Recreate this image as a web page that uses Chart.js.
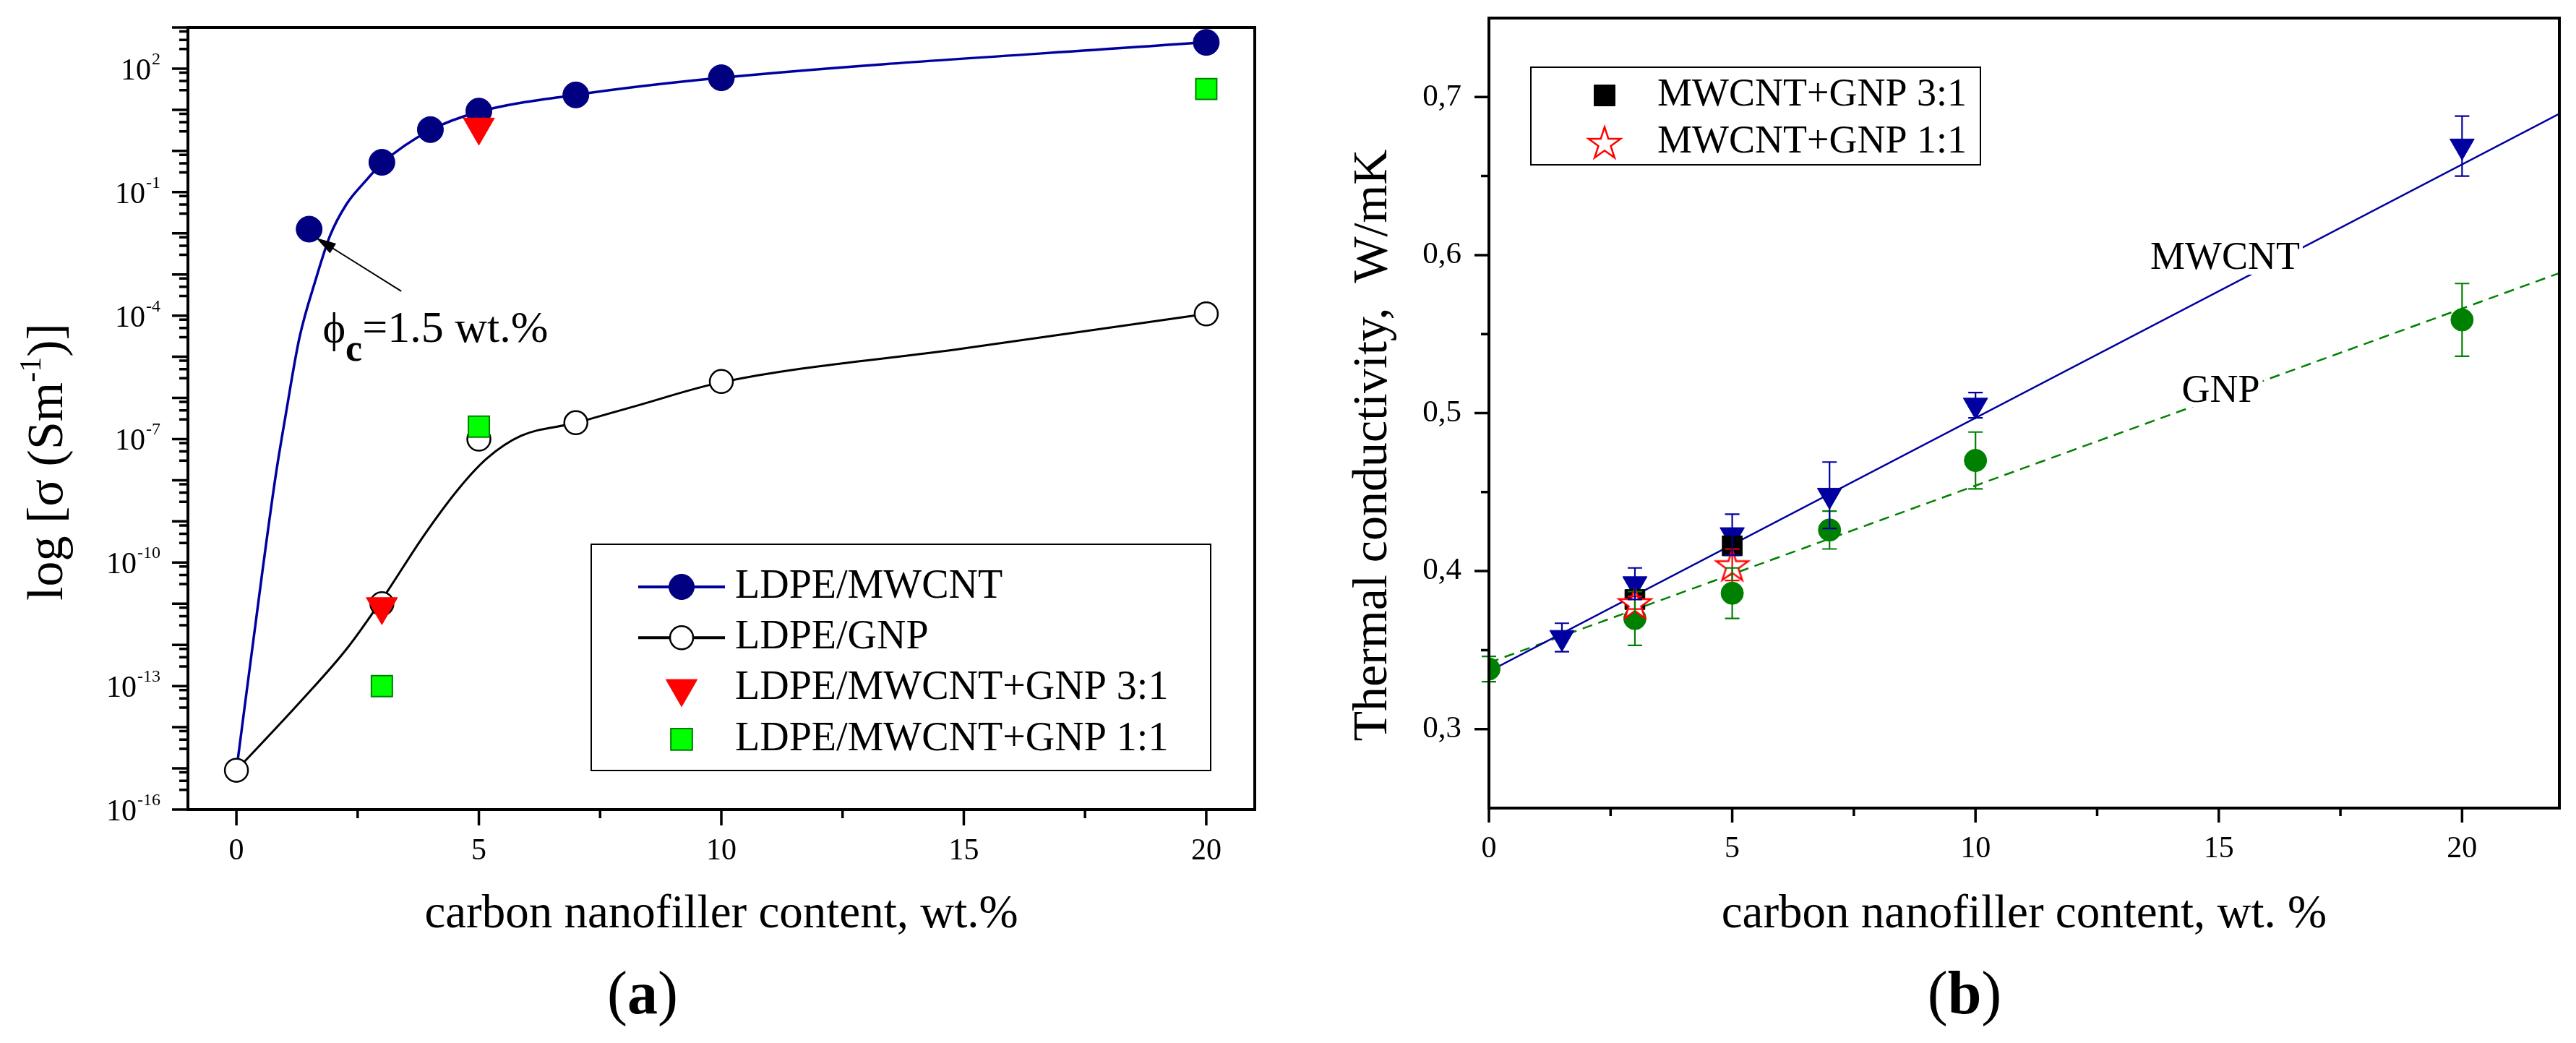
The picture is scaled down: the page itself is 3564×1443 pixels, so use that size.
<!DOCTYPE html>
<html>
<head>
<meta charset="utf-8">
<title>LDPE nanocomposites</title>
<script src="https://cdn.jsdelivr.net/npm/chart.js@4.4.1/dist/chart.umd.min.js"></script>
<style>
  html, body { margin: 0; padding: 0; background: #fff; }
  #fig { position: relative; width: 3564px; height: 1443px; background: #fff; }
  #fig canvas { position: absolute; top: 0; }
</style>
</head>
<body>
<div id="fig">
  <canvas id="chartA" width="1782" height="1443" style="left:0"></canvas>
  <canvas id="chartB" width="1782" height="1443" style="left:1782px"></canvas>
</div>
<script>
const serif = '"Liberation Serif", "Times New Roman", Times, serif';
Chart.defaults.font.family = serif;
Chart.defaults.color = '#000';

// ---- (a) electrical conductivity, S/m
const aMwcntX = [1.5, 3, 4, 5, 7, 10, 20];
const aMwcntY = [1.26e-2, 0.53, 3.3, 9.3, 23, 60, 433];
const aGnpX = [0, 3, 5, 7, 10, 20];
const aGnpY = [9e-16, 1e-11, 1e-7, 2.5e-7, 2.5e-6, 1.1e-4];
const aMix31X = [3, 5];
const aMix31Y = [8.5e-12, 3.8];
const aMix11X = [3, 5, 20];
const aMix11Y = [1e-13, 2e-7, 32];
// guide curves
const aMwcntFitX = [0, 0.53, 0.81, 1.01, 1.3, 1.64, 1.93, 2.27, 2.67, 3, 4, 5, 7, 10, 20];
const aMwcntFitY = [9e-16, 5.4e-11, 1.3e-8, 3.5e-7, 2.9e-5, 7.8e-4, 8.7e-3, 0.051, 0.19, 0.5, 3.2, 8.9, 23, 60, 440];
const aGnpFitX = [0, 1.36, 2.27, 3, 3.88, 4.61, 5.18, 5.87, 6.98, 8.2, 10, 15, 20];
const aGnpFitY = [9e-16, 4.7e-14, 7.9e-13, 1.26e-11, 4.8e-10, 6.8e-9, 3.5e-8, 1.2e-7, 2.45e-7, 6.2e-7, 2.4e-6, 1.6e-5, 1.1e-4];
const aXTicks = [0, 5, 10, 15, 20];
const aXMinor = [2.5, 7.5, 12.5, 17.5];
const aYLabelExp = [-16, -13, -10, -7, -4, -1, 2];
const aYDecadeExp = [-16, -15, -14, -13, -12, -11, -10, -9, -8, -7, -6, -5, -4, -3, -2, -1, 0, 1, 2, 3];
const aYMinorMult = [3, 5, 8];

// ---- (b) thermal conductivity, W/mK
const bMwcntX = [1.5, 3, 5, 7, 10, 20];
const bMwcntY = [0.358, 0.392, 0.423, 0.448, 0.505, 0.669];
const bMwcntErr = [0.009, 0.010, 0.013, 0.021, 0.008, 0.019];
const bGnpX = [0, 3, 5, 7, 10, 20];
const bGnpY = [0.338, 0.370, 0.386, 0.426, 0.470, 0.559];
const bGnpErr = [0.008, 0.017, 0.016, 0.012, 0.018, 0.023];
const bMix31X = [3, 5];
const bMix31Y = [0.382, 0.416];
const bMix11X = [3, 5];
const bMix11Y = [0.380, 0.404];
const bMix11Err = [0.004, 0.010];
const bMwcntFitX = [0, 22];
const bMwcntFitY = [0.3365, 0.6895];
const bGnpFitX = [0, 22];
const bGnpFitY = [0.342, 0.5886];
const bXTicks = [0, 5, 10, 15, 20];
const bXMinor = [2.5, 7.5, 12.5, 17.5];
const bYTicks = [0.3, 0.4, 0.5, 0.6, 0.7];
const bYMinor = [0.35, 0.45, 0.55, 0.65];

function pts(xs, ys) { return xs.map((x, i) => ({ x: x, y: ys[i] })); }

// fixed axis box, no extra label padding pushed onto the chart area
function fixSize(w, h) {
  return s => {
    if (w !== null) s.width = w;
    if (h !== null) s.height = h;
    s.paddingTop = s.paddingBottom = s.paddingLeft = s.paddingRight = 0;
  };
}

// open red five-point star, used as a point style
function starImage(R, color, lw) {
  const size = Math.ceil(2 * (R + lw));
  const c = document.createElement('canvas');
  c.width = c.height = size;
  const g = c.getContext('2d');
  const cx = size / 2, cy = size / 2 + 0.095 * R, r = R * 0.382;
  g.beginPath();
  for (let i = 0; i < 10; i++) {
    const ang = -Math.PI / 2 + i * Math.PI / 5, rr = i % 2 ? r : R;
    g.lineTo(cx + rr * Math.cos(ang), cy + rr * Math.sin(ang));
  }
  g.closePath();
  g.fillStyle = '#fff';
  g.fill();
  g.lineWidth = lw;
  g.strokeStyle = color;
  g.stroke();
  return c;
}
const starRed = starImage(23.5, '#ff0000', 2.5);

function drawSymbol(ctx, s, x, y) {
  ctx.save();
  if (s.img) { ctx.drawImage(s.img, x - s.img.width / 2, y - s.img.height / 2); ctx.restore(); return; }
  ctx.fillStyle = s.fill;
  ctx.strokeStyle = s.stroke || s.fill;
  ctx.lineWidth = s.lw || 1;
  ctx.beginPath();
  if (s.shape === 'circle') ctx.arc(x, y, s.r, 0, Math.PI * 2);
  else if (s.shape === 'tri') {
    ctx.moveTo(x, y + s.r);
    ctx.lineTo(x - s.r * 0.866, y - s.r / 2);
    ctx.lineTo(x + s.r * 0.866, y - s.r / 2);
    ctx.closePath();
  } else {
    const h = s.r * Math.SQRT1_2;
    ctx.rect(x - h, y - h, 2 * h, 2 * h);
  }
  ctx.fill();
  ctx.stroke();
  ctx.restore();
}

// runs of text with different sizes (super/subscripts), left aligned on baseline
function runsWidth(ctx, runs) {
  let w = 0;
  runs.forEach(r => { ctx.font = (r.bold ? 'bold ' : '') + r.size + 'px ' + serif; w += ctx.measureText(r.t).width; });
  return w;
}
function drawRuns(ctx, runs, x, y) {
  let cx = x;
  ctx.textAlign = 'left';
  ctx.textBaseline = 'alphabetic';
  runs.forEach(r => {
    ctx.font = (r.bold ? 'bold ' : '') + r.size + 'px ' + serif;
    ctx.fillText(r.t, cx, y + (r.dy || 0));
    cx += ctx.measureText(r.t).width;
  });
}
function drawRunsCentered(ctx, runs, cx, y) { drawRuns(ctx, runs, cx - runsWidth(ctx, runs) / 2, y); }
function drawRunsVertical(ctx, runs, baseX, cy) {
  ctx.save();
  ctx.translate(baseX, cy);
  ctx.rotate(-Math.PI / 2);
  drawRunsCentered(ctx, runs, 0, 0);
  ctx.restore();
}

// frame, tick marks, error bars and the hand-drawn furniture of each panel
function decor(cfg) {
  return {
    id: 'decor',
    afterDatasetsDraw(chart) {
      const ctx = chart.ctx, ys = chart.scales.y;
      chart.data.datasets.forEach((ds, i) => {
        if (!ds.errors) return;
        const meta = chart.getDatasetMeta(i);
        ctx.save();
        ctx.strokeStyle = ds.errorColor;
        ctx.lineWidth = 2.2;
        meta.data.forEach((el, j) => {
          const v = ds.data[j].y, e = ds.errors[j];
          const top = ys.getPixelForValue(v + e), bot = ys.getPixelForValue(v - e);
          ctx.beginPath();
          ctx.moveTo(el.x, top); ctx.lineTo(el.x, bot);
          ctx.moveTo(el.x - 10, top); ctx.lineTo(el.x + 10, top);
          ctx.moveTo(el.x - 10, bot); ctx.lineTo(el.x + 10, bot);
          ctx.stroke();
        });
        ctx.restore();
      });
      if (cfg.overlay) cfg.overlay(chart, ctx);
    },
    afterDraw(chart) {
      const ctx = chart.ctx, a = chart.chartArea, xs = chart.scales.x, ys = chart.scales.y;
      ctx.save();
      ctx.strokeStyle = '#000';
      ctx.fillStyle = '#000';
      ctx.lineWidth = 4;
      ctx.strokeRect(a.left, a.top, a.right - a.left, a.bottom - a.top);
      ctx.lineWidth = 3.5;
      ctx.beginPath();
      const xt = (vals, len) => vals.forEach(v => { const p = xs.getPixelForValue(v); ctx.moveTo(p, a.bottom); ctx.lineTo(p, a.bottom + len); });
      const yt = (vals, len) => vals.forEach(v => { const p = ys.getPixelForValue(v); ctx.moveTo(a.left, p); ctx.lineTo(a.left - len, p); });
      xt(cfg.xMajor, cfg.majorLen); xt(cfg.xMinor, cfg.minorLen);
      yt(cfg.yMajor, cfg.majorLen); yt(cfg.yMinor, cfg.minorLen);
      ctx.stroke();
      cfg.extra(chart, ctx);
      ctx.restore();
    }
  };
}

function drawLegend(chart, ctx, L) {
  ctx.save();
  ctx.lineWidth = 2;
  ctx.strokeStyle = '#000';
  ctx.fillStyle = '#fff';
  ctx.fillRect(L.box[0], L.box[1], L.box[2], L.box[3]);
  ctx.strokeRect(L.box[0], L.box[1], L.box[2], L.box[3]);
  L.rows.forEach((row, i) => {
    const y = L.y0 + i * L.dy;
    if (row.line) {
      ctx.strokeStyle = row.line;
      ctx.lineWidth = 4;
      ctx.beginPath();
      ctx.moveTo(L.lineX[0], y); ctx.lineTo(L.lineX[1], y);
      ctx.stroke();
    }
    drawSymbol(ctx, row.sym, L.symX, y);
    ctx.fillStyle = '#000';
    ctx.font = L.font + 'px ' + serif;
    ctx.textAlign = 'left';
    ctx.textBaseline = 'middle';
    ctx.fillText(chart.data.datasets[row.ds].label, L.textX, y);
  });
  ctx.restore();
}

function panelLetter(ctx, letter, cx) {
  ctx.fillStyle = '#000';
  drawRunsCentered(ctx, [{ t: '(', size: 84 }, { t: letter, size: 84, bold: true }, { t: ')', size: 84 }], cx, 1402);
}

// ---------------- chart (a)
new Chart(document.getElementById('chartA'), {
  type: 'line',
  data: {
    datasets: [
      { label: 'LDPE/MWCNT+GNP 3:1', data: pts(aMix31X, aMix31Y), showLine: false, order: 1,
        pointStyle: 'triangle', pointRotation: 180, pointRadius: 25,
        pointBackgroundColor: '#ff0000', pointBorderColor: '#ff0000', pointBorderWidth: 1 },
      { label: 'LDPE/MWCNT+GNP 1:1', data: pts(aMix11X, aMix11Y), showLine: false, order: 2,
        pointStyle: 'rect', pointRadius: 20.5,
        pointBackgroundColor: '#00ff00', pointBorderColor: '#008000', pointBorderWidth: 2 },
      { label: 'LDPE/MWCNT', data: pts(aMwcntX, aMwcntY), showLine: false, order: 3,
        pointStyle: 'circle', pointRadius: 18,
        pointBackgroundColor: '#000080', pointBorderColor: '#000080', pointBorderWidth: 1 },
      { label: 'LDPE/GNP', data: pts(aGnpX, aGnpY), showLine: false, order: 4,
        pointStyle: 'circle', pointRadius: 16,
        pointBackgroundColor: '#ffffff', pointBorderColor: '#000000', pointBorderWidth: 2.5 },
      { label: 'MWCNT curve', data: pts(aMwcntFitX, aMwcntFitY), order: 5, pointRadius: 0,
        borderColor: '#0000a0', borderWidth: 3.5, cubicInterpolationMode: 'monotone' },
      { label: 'GNP curve', data: pts(aGnpFitX, aGnpFitY), order: 6, pointRadius: 0,
        borderColor: '#000000', borderWidth: 3, cubicInterpolationMode: 'monotone' }
    ]
  },
  options: {
    responsive: false, animation: false, events: [], devicePixelRatio: 1,
    layout: { padding: { left: 0, top: 38, right: 46, bottom: 0 } },
    plugins: { legend: { display: false }, tooltip: { enabled: false } },
    scales: {
      x: {
        type: 'linear', min: -1, max: 21,
        afterBuildTicks: s => { s.ticks = aXTicks.map(v => ({ value: v })); },
        afterFit: fixSize(null, 323),
        grid: { display: false, drawTicks: false }, border: { display: false },
        ticks: { font: { size: 42 }, color: '#000', padding: 33, maxRotation: 0, autoSkip: false },
        title: { display: true, text: 'carbon nanofiller content, wt.%', color: '#000',
                 font: { size: 65 }, padding: { top: 0, bottom: 138 } }
      },
      y: {
        type: 'logarithmic', min: 1e-16, max: 1e3,
        afterBuildTicks: s => { s.ticks = aYDecadeExp.map(e => ({ value: Math.pow(10, e) })); },
        afterFit: fixSize(260, null),
        grid: { display: false, drawTicks: false }, border: { display: false },
        ticks: { display: false }
      }
    }
  },
  plugins: [decor({
    xMajor: aXTicks, xMinor: aXMinor,
    yMajor: aYDecadeExp.map(e => Math.pow(10, e)),
    yMinor: aYDecadeExp.slice(0, -1).flatMap(e => aYMinorMult.map(m => m * Math.pow(10, e))),
    majorLen: 22, minorLen: 12,
    overlay(chart, ctx) {
      const xs = chart.scales.x, ys = chart.scales.y;
      // percolation threshold arrow
      const tx = xs.getPixelForValue(1.64), ty = ys.getPixelForValue(7.8e-3);
      const fx = xs.getPixelForValue(3.40), fy = ys.getPixelForValue(3.9e-4);
      const ang = Math.atan2(ty - fy, tx - fx);
      ctx.save();
      ctx.strokeStyle = '#000'; ctx.fillStyle = '#000'; ctx.lineWidth = 2;
      ctx.beginPath(); ctx.moveTo(fx, fy); ctx.lineTo(tx - 20 * Math.cos(ang), ty - 20 * Math.sin(ang)); ctx.stroke();
      ctx.beginPath();
      ctx.moveTo(tx, ty);
      ctx.lineTo(tx - 28 * Math.cos(ang) + 8 * Math.sin(ang), ty - 28 * Math.sin(ang) - 8 * Math.cos(ang));
      ctx.lineTo(tx - 28 * Math.cos(ang) - 8 * Math.sin(ang), ty - 28 * Math.sin(ang) + 8 * Math.cos(ang));
      ctx.closePath(); ctx.fill();
      drawRuns(ctx, [{ t: '\u03d5', size: 60 }, { t: 'c', size: 52, bold: true, dy: 26 }, { t: '=1.5 wt.%', size: 62 }],
               xs.getPixelForValue(1.78), ys.getPixelForValue(2.3e-5));
      ctx.restore();
    },
    extra(chart, ctx) {
      const a = chart.chartArea, ys = chart.scales.y;
      ctx.fillStyle = '#000';
      aYLabelExp.forEach(e => {
        const p = ys.getPixelForValue(Math.pow(10, e));
        const right = a.left - 38;
        ctx.textAlign = 'right';
        ctx.textBaseline = 'alphabetic';
        ctx.font = '24px ' + serif;
        const w = ctx.measureText(String(e)).width;
        ctx.fillText(String(e), right, p - 6);
        ctx.font = '42px ' + serif;
        ctx.fillText('10', right - w - 1, p + 15);
      });
      drawRunsVertical(ctx, [{ t: 'log [\u03c3 (Sm', size: 70 }, { t: '-1', size: 42, dy: -30 }, { t: ')]', size: 70 }], 86, 639);
      drawLegend(chart, ctx, {
        box: [818, 753, 857, 313], y0: 812, dy: 70.3, lineX: [883, 1003], symX: 943, textX: 1017, font: 56,
        rows: [
          { ds: 2, line: '#0000a0', sym: { shape: 'circle', r: 17.5, fill: '#000080' } },
          { ds: 3, line: '#000000', sym: { shape: 'circle', r: 16, fill: '#fff', stroke: '#000', lw: 2.5 } },
          { ds: 0, sym: { shape: 'tri', r: 25, fill: '#ff0000' } },
          { ds: 1, sym: { shape: 'rect', r: 21, fill: '#00ff00', stroke: '#008000', lw: 2 } }
        ]
      });
      panelLetter(ctx, 'a', 889);
    }
  })]
});

// ---------------- chart (b)
new Chart(document.getElementById('chartB'), {
  type: 'line',
  data: {
    datasets: [
      { label: 'MWCNT+GNP 1:1', data: pts(bMix11X, bMix11Y), showLine: false, order: 1,
        pointStyle: starRed, pointRadius: 20, errors: bMix11Err, errorColor: '#ff0000' },
      { label: 'GNP', data: pts(bGnpX, bGnpY), showLine: false, order: 2,
        pointStyle: 'circle', pointRadius: 15.5,
        pointBackgroundColor: '#008000', pointBorderColor: '#008000', pointBorderWidth: 1,
        errors: bGnpErr, errorColor: '#008000' },
      { label: 'MWCNT+GNP 3:1', data: pts(bMix31X, bMix31Y), showLine: false, order: 3,
        pointStyle: 'rect', pointRadius: 19.5,
        pointBackgroundColor: '#000000', pointBorderColor: '#000000', pointBorderWidth: 1 },
      { label: 'MWCNT', data: pts(bMwcntX, bMwcntY), showLine: false, order: 4,
        pointStyle: 'triangle', pointRotation: 180, pointRadius: 19.5,
        pointBackgroundColor: '#0000a0', pointBorderColor: '#0000a0', pointBorderWidth: 1,
        errors: bMwcntErr, errorColor: '#0000a0' },
      { label: 'MWCNT fit', data: pts(bMwcntFitX, bMwcntFitY), order: 5, pointRadius: 0,
        borderColor: '#0000a0', borderWidth: 2.5 },
      { label: 'GNP fit', data: pts(bGnpFitX, bGnpFitY), order: 6, pointRadius: 0,
        borderColor: '#008000', borderWidth: 2.5, borderDash: [14, 9] }
    ]
  },
  options: {
    responsive: false, animation: false, events: [], devicePixelRatio: 1,
    layout: { padding: { left: 0, top: 25, right: 23, bottom: 0 } },
    plugins: { legend: { display: false }, tooltip: { enabled: false } },
    scales: {
      x: {
        type: 'linear', min: 0, max: 22,
        afterBuildTicks: s => { s.ticks = bXTicks.map(v => ({ value: v })); },
        afterFit: fixSize(null, 325),
        grid: { display: false, drawTicks: false }, border: { display: false },
        ticks: { font: { size: 42 }, color: '#000', padding: 32, maxRotation: 0, autoSkip: false },
        title: { display: true, text: 'carbon nanofiller content, wt. %', color: '#000',
                 font: { size: 65 }, padding: { top: 0, bottom: 138 } }
      },
      y: {
        type: 'linear', min: 0.25, max: 0.75,
        afterBuildTicks: s => { s.ticks = bYTicks.map(v => ({ value: v })); },
        afterFit: fixSize(278, null),
        grid: { display: false, drawTicks: false }, border: { display: false },
        ticks: { font: { size: 43 }, color: '#000', padding: 38,
                 callback: v => v.toFixed(1).replace('.', ',') }
      }
    }
  },
  plugins: [decor({
    xMajor: bXTicks, xMinor: bXMinor, yMajor: bYTicks, yMinor: bYMinor,
    majorLen: 20, minorLen: 11,
    overlay(chart, ctx) {
      const xs = chart.scales.x, ys = chart.scales.y;
      const tag = (text, x, y) => {
        const px = xs.getPixelForValue(x), py = ys.getPixelForValue(y);
        ctx.font = '54px ' + serif;
        const w = ctx.measureText(text).width;
        ctx.fillStyle = '#fff';
        ctx.fillRect(px - w / 2 - 4, py - 24, w + 8, 46);
        ctx.fillStyle = '#000';
        ctx.textAlign = 'center';
        ctx.textBaseline = 'middle';
        ctx.fillText(text, px, py);
      };
      ctx.save();
      tag('MWCNT', 15.13, 0.5977);
      tag('GNP', 15.04, 0.5137);
      ctx.restore();
    },
    extra(chart, ctx) {
      ctx.fillStyle = '#000';
      drawRunsVertical(ctx, [{ t: 'Thermal conductivity,  W/mK', size: 68 }], 136, 616);
      drawLegend(chart, ctx, {
        box: [336, 93, 622, 135], y0: 132, dy: 65, symX: 438, textX: 511, font: 54,
        rows: [
          { ds: 2, sym: { shape: 'rect', r: 20.5, fill: '#000000' } },
          { ds: 0, sym: { img: starRed } }
        ]
      });
      panelLetter(ctx, 'b', 936);
    }
  })]
});
</script>
</body>
</html>
